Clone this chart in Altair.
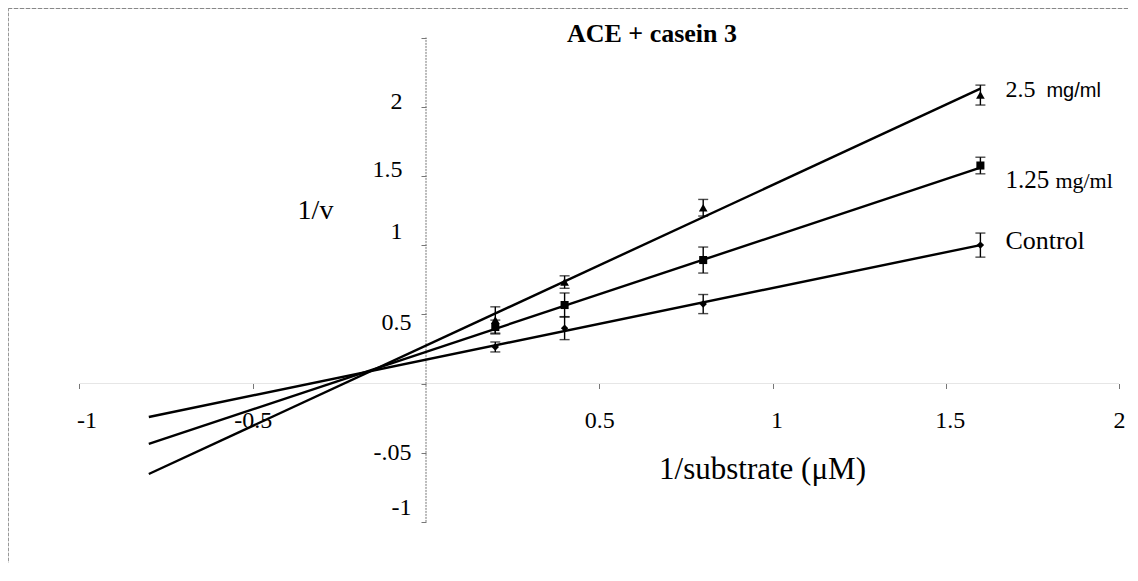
import altair as alt
import pandas as pd

# ---------------- data ----------------
series_names = ["Control", "1.25 mg/ml", "2.5 mg/ml"]
x_vals = [0.2, 0.4, 0.8, 1.6]

control_y = [0.264, 0.40, 0.574, 1.00]
control_err = [0.036, 0.083, 0.069, 0.087]
mid_y = [0.408, 0.567, 0.892, 1.575]
mid_err = [0.05, 0.087, 0.094, 0.06]
high_y = [0.459, 0.733, 1.27, 2.084]
high_err = [0.095, 0.045, 0.06, 0.072]

trend_x = [-0.8, 1.6]
control_trend = [-0.242, 1.00]
mid_trend = [-0.437, 1.56]
high_trend = [-0.654, 2.13]

x_ticks = [-1, -0.5, 0.5, 1, 1.5, 2]
x_tick_labels = ["-1", "-0.5", "0.5", "1", "1.5", "2"]
y_ticks = [-1, -0.5, 0, 0.5, 1, 1.5, 2, 2.5]
y_tick_labels = ["-1", "-.05", "", "0.5", "1", "1.5", "2", ""]

title_text = "ACE + casein 3"
x_title = "1/substrate (\u03bcM)"
y_title = "1/v"

# ---------------- tables ----------------
ys = {"Control": (control_y, control_err), "1.25 mg/ml": (mid_y, mid_err), "2.5 mg/ml": (high_y, high_err)}
rows = []
for s in series_names:
    yv, ev = ys[s]
    for x, y, e in zip(x_vals, yv, ev):
        rows.append({"series": s, "x": x, "y": y, "lo": y - e, "hi": y + e})
pts = pd.DataFrame(rows)

trends = {"Control": control_trend, "1.25 mg/ml": mid_trend, "2.5 mg/ml": high_trend}
trows = []
for s in series_names:
    for x, y in zip(trend_x, trends[s]):
        trows.append({"series": s, "x": x, "y": y})
trend_df = pd.DataFrame(trows)

# ---------------- layout ----------------
W, H = 1120, 555
PX_X = 346.5
PX_Y = 138.4
xmin = -1 - (79.5 - 8) / PX_X
xmax = xmin + W / PX_X
ymax = (383.5 - 8) / PX_Y
ymin = ymax - H / PX_Y
x_axis_y = 375.5
y_axis_x = 418

xs = alt.Scale(domain=[xmin, xmax], nice=False, zero=False)
yscale = alt.Scale(domain=[ymin, ymax], nice=False, zero=False)

SERIF = "Liberation Serif"
SANS = "Liberation Sans"


def label_expr(vals, labels):
    expr = "''"
    for v, l in reversed(list(zip(vals, labels))):
        expr = f"datum.value == {v} ? '{l}' : ({expr})"
    return expr


def cond(mapping, default):
    return {"condition": [{"test": f"datum.value == {k}", "value": v} for k, v in mapping.items()],
            "value": default}


x_axis = alt.Axis(
    values=x_ticks, labelExpr=label_expr(x_ticks, x_tick_labels), orient="bottom",
    offset=-(H - x_axis_y), domain=False, grid=False, tickSize=5, tickColor="#777", tickWidth=1,
    labelFont=SERIF, labelFontSize=24, labelColor="black", labelBaseline="middle",
    labelPadding=32, labelFlush=False, labelOverlap=False,
    labelOffset=cond({-1: 7, 1: 4, 1.5: 4}, 0),
    title=x_title, titleFont=SERIF, titleFontSize=31, titleFontWeight="normal", titleColor="black",
    titleX=762 - 8, titleY=470 - x_axis_y, titleAlign="center", titleBaseline="alphabetic",
)
y_axis = alt.Axis(
    values=y_ticks, labelExpr=label_expr(y_ticks, y_tick_labels), orient="left",
    offset=-y_axis_x, domain=False, grid=False, tickSize=5, tickColor="#777", tickWidth=1,
    labelFont=SERIF, labelFontSize=24, labelColor="black", labelFlush=False, labelOverlap=False,
    labelOffset=cond({2: -5, 1.5: -6, 1: -14, 0.5: 8, -1: -14}, 0),
    labelPadding=cond({2: 19, 1.5: 19, 1: 19}, 10),
    title=y_title, titleFont=SERIF, titleFontSize=28, titleFontWeight="normal", titleColor="black",
    titleAngle=0, titleX=315 - 8 - y_axis_x, titleY=210, titleAlign="center", titleBaseline="alphabetic",
)

shape_scale = alt.Scale(domain=series_names, range=["diamond", "square", "triangle-up"])
size_scale = alt.Scale(domain=series_names, range=[55, 75, 80])

base_pts = alt.Chart(pts)

# axis lines (the x axis line is very faint in the scan)
x_line = alt.Chart(pd.DataFrame({"a": [0]})).mark_rule(color="#e6e6e6", strokeWidth=1).encode(
    x=alt.X(datum=-1, type="quantitative", scale=xs, axis=x_axis),
    x2=alt.X2(datum=2),
    y=alt.Y(datum=0, type="quantitative", scale=yscale, axis=y_axis),
)
y_line = alt.Chart(pd.DataFrame({"a": [0]})).mark_rule(color="#777", strokeWidth=1, strokeDash=[2, 1]).encode(
    x=alt.X(datum=0, type="quantitative"),
    y=alt.Y(datum=-1, type="quantitative"),
    y2=alt.Y2(datum=2.5),
)

lines = alt.Chart(trend_df).mark_line(color="black", strokeWidth=2.4, strokeCap="butt").encode(
    x=alt.X("x:Q"), y=alt.Y("y:Q"), detail="series:N",
)

err_rules = base_pts.mark_rule(color="black", strokeWidth=1.4).encode(
    x="x:Q", y="lo:Q", y2="hi:Q",
)
caps_hi = base_pts.mark_tick(color="black", orient="horizontal", size=10, thickness=1.4).encode(
    x="x:Q", y="hi:Q",
)
caps_lo = base_pts.mark_tick(color="black", orient="horizontal", size=10, thickness=1.4).encode(
    x="x:Q", y="lo:Q",
)
markers = base_pts.mark_point(filled=True, color="black", opacity=1).encode(
    x="x:Q", y="y:Q",
    shape=alt.Shape("series:N", scale=shape_scale, legend=None),
    size=alt.Size("series:N", scale=size_scale, legend=None),
)

# series labels at the last point of each series
last = pts[pts["x"] == x_vals[-1]]
label_specs = [
    ("2.5 mg/ml", "2.5", SERIF, 24, 25, 2),
    ("2.5 mg/ml", "mg/ml", SANS, 20, 66, 2),
    ("1.25 mg/ml", "1.25", SERIF, 25, 25, 22.5),
    ("1.25 mg/ml", "mg/ml", SERIF, 22, 75, 22.5),
    ("Control", "Control", SERIF, 26, 25, 4),
]
label_layers = []
for s, txt, font, fs, dx, dy in label_specs:
    label_layers.append(
        alt.Chart(last[last["series"] == s]).mark_text(
            text=txt, font=font, fontSize=fs, align="left", baseline="alphabetic",
            dx=dx, dy=dy, color="black",
        ).encode(x="x:Q", y="y:Q")
    )

title_layer = alt.Chart(pd.DataFrame({"t": [title_text]})).mark_text(
    font=SERIF, fontSize=26, fontWeight="bold", align="center", baseline="alphabetic", color="black",
).encode(x=alt.value(652 - 8), y=alt.value(42 - 8), text="t:N")

border_top = alt.Chart(pd.DataFrame({"a": [0]})).mark_rule(color="#888", strokeWidth=1, strokeDash=[4, 2]).encode(
    x=alt.value(0), x2=alt.value(W), y=alt.value(0.5)
)
border_left = alt.Chart(pd.DataFrame({"a": [0]})).mark_rule(color="#999", strokeWidth=1, strokeDash=[3, 2]).encode(
    x=alt.value(0.5), y=alt.value(0), y2=alt.value(H)
)

chart = alt.layer(
    x_line, y_line, border_top, border_left, lines, err_rules, caps_hi, caps_lo, markers,
    *label_layers, title_layer,
).properties(
    width=W, height=H, autosize=alt.AutoSizeParams(type="none"), padding=0,
).configure_view(stroke=None).configure(background="white")

chart.save("out.html", embed_options={"renderer": "svg", "actions": False})
